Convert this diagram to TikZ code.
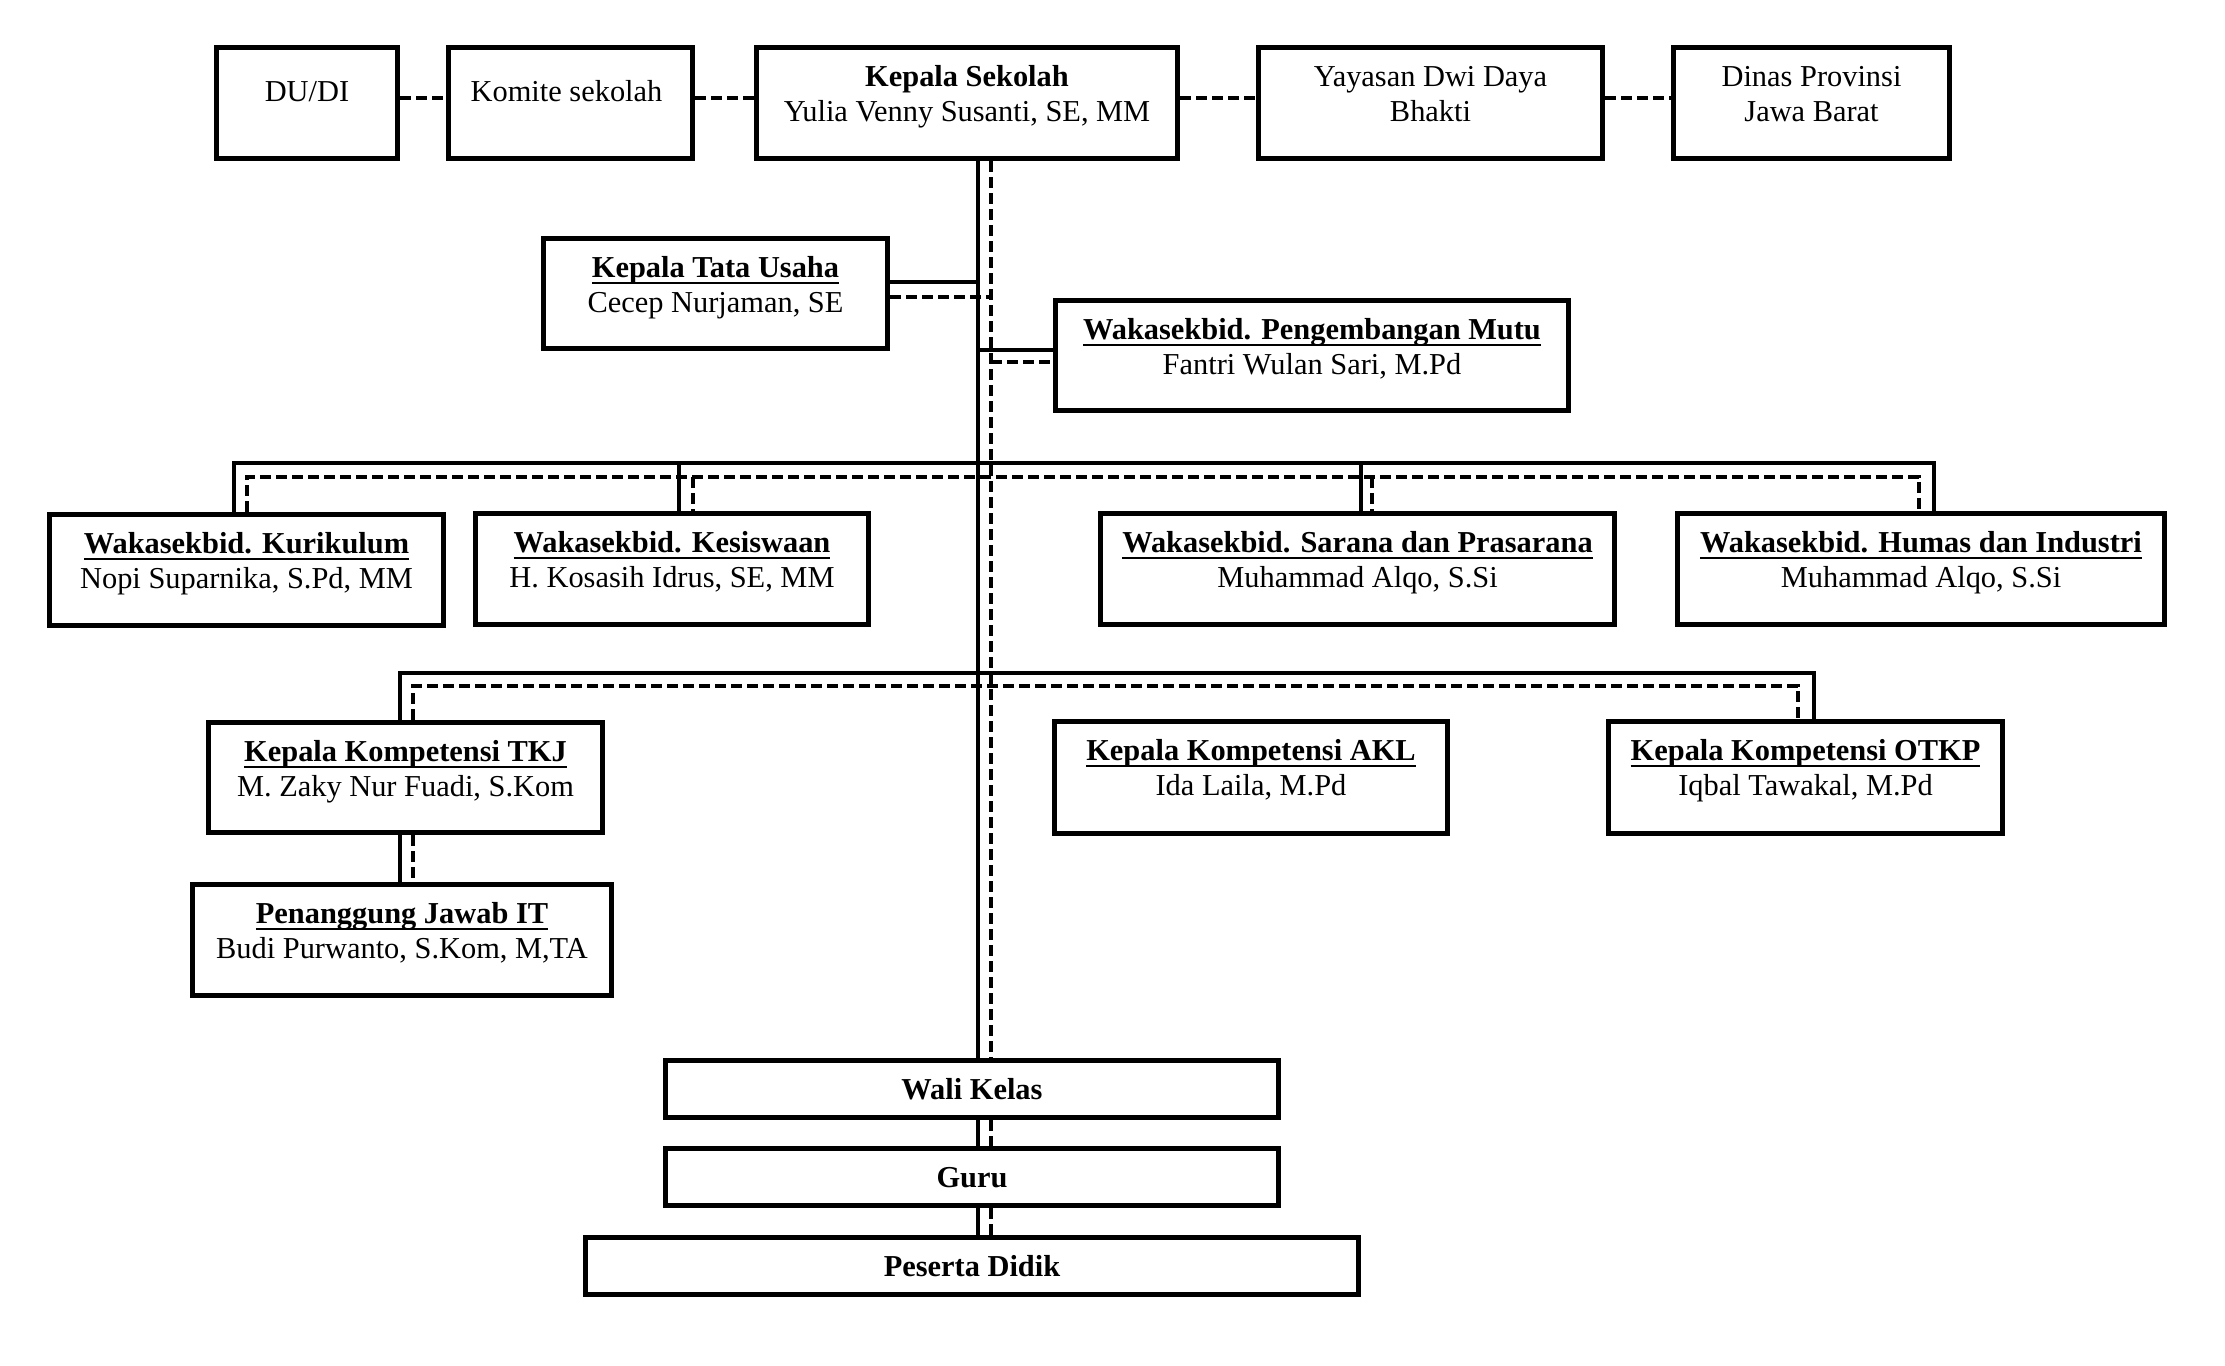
\documentclass[tikz,border=0pt]{standalone}
\usepackage{fontspec}
\setmainfont{Liberation Serif}
\newsavebox\ulbox
\newcommand\ulb[1]{\sbox\ulbox{\bfseries #1}\rlap{\usebox\ulbox}\rule[-3.1pt]{\wd\ulbox}{1.1pt}}
\newcommand\mkbox[5]{\node[orgbox, minimum width={(#4-#2-4.5)*0.5pt}, minimum height={(#5-#3-4.5)*0.5pt}] (#1) at ({(#2+#4)/2},{(#3+#5)/2}) {};}
\tikzset{
  orgbox/.style={draw, rectangle, line width=2.35pt, inner sep=0pt},
  txt/.style={inner sep=0pt, font=\fontsize{15.2}{17.5}\selectfont, anchor=base},
  solidc/.style={line width=2pt},
  dashc/.style={line width=2pt, dash pattern=on 5.5pt off 2.5pt}
}
\begin{document}
\begin{tikzpicture}[x=0.5pt,y=-0.5pt]
\fill[white] (0,0) rectangle (2225,1365);
\useasboundingbox (0,0) rectangle (2225,1365);
% boxes
\mkbox{dudi}{214}{45}{400}{161}
\mkbox{komite}{446}{45}{695}{161}
\mkbox{ks}{754}{45}{1180}{161}
\mkbox{yay}{1256}{45}{1605}{161}
\mkbox{dinas}{1671}{45}{1952}{161}
\mkbox{ktu}{541}{236}{890}{351}
\mkbox{mutu}{1053}{298}{1571}{413}
\mkbox{kur}{47}{512}{446}{628}
\mkbox{kes}{473}{511}{871}{627}
\mkbox{sar}{1098}{511}{1617}{627}
\mkbox{hum}{1675}{511}{2167}{627}
\mkbox{tkj}{206}{720}{605}{835}
\mkbox{akl}{1052}{719}{1450}{836}
\mkbox{otkp}{1606}{719}{2005}{836}
\mkbox{pjit}{190}{882}{614}{998}
\mkbox{wali}{663}{1058}{1281}{1120}
\mkbox{guru}{663}{1146}{1281}{1208}
\mkbox{pd}{583}{1235}{1361}{1297}
% texts
\node[txt] (dudi-a) at ([yshift=-28.5pt]dudi.north) {DU/DI};
\node[txt] (komite-a) at ([xshift=-2pt,yshift=-28.5pt]komite.north) {Komite sekolah};
\node[txt] (ks-a) at ([yshift=-21pt]ks.north) {\bfseries Kepala Sekolah};
\node[txt] (ks-b) at ([yshift=-38.5pt]ks.north) {Yulia Venny Susanti, SE, MM};
\node[txt] (yay-a) at ([yshift=-21pt]yay.north) {Yayasan Dwi Daya};
\node[txt] (yay-b) at ([yshift=-38.5pt]yay.north) {Bhakti};
\node[txt] (dinas-a) at ([yshift=-21pt]dinas.north) {Dinas Provinsi};
\node[txt] (dinas-b) at ([yshift=-38.5pt]dinas.north) {Jawa Barat};
\node[txt] (ktu-a) at ([yshift=-21pt]ktu.north) {\ulb{Kepala Tata Usaha}};
\node[txt] (ktu-b) at ([yshift=-38.5pt]ktu.north) {Cecep Nurjaman, SE};
\node[txt] (mutu-a) at ([yshift=-21pt]mutu.north) {\ulb{Wakasekbid. Pengembangan Mutu}};
\node[txt] (mutu-b) at ([yshift=-38.5pt]mutu.north) {Fantri Wulan Sari, M.Pd};
\node[txt] (kur-a) at ([yshift=-21pt]kur.north) {\ulb{Wakasekbid. Kurikulum}};
\node[txt] (kur-b) at ([yshift=-38.5pt]kur.north) {Nopi Suparnika, S.Pd, MM};
\node[txt] (kes-a) at ([yshift=-21pt]kes.north) {\ulb{Wakasekbid. Kesiswaan}};
\node[txt] (kes-b) at ([yshift=-38.5pt]kes.north) {H. Kosasih Idrus, SE, MM};
\node[txt] (sar-a) at ([yshift=-21pt]sar.north) {\ulb{Wakasekbid. Sarana dan Prasarana}};
\node[txt] (sar-b) at ([yshift=-38.5pt]sar.north) {Muhammad Alqo, S.Si};
\node[txt] (hum-a) at ([yshift=-21pt]hum.north) {\ulb{Wakasekbid. Humas dan Industri}};
\node[txt] (hum-b) at ([yshift=-38.5pt]hum.north) {Muhammad Alqo, S.Si};
\node[txt] (tkj-a) at ([yshift=-21pt]tkj.north) {\ulb{Kepala Kompetensi TKJ}};
\node[txt] (tkj-b) at ([yshift=-38.5pt]tkj.north) {M. Zaky Nur Fuadi, S.Kom};
\node[txt] (akl-a) at ([yshift=-21pt]akl.north) {\ulb{Kepala Kompetensi AKL}};
\node[txt] (akl-b) at ([yshift=-38.5pt]akl.north) {Ida Laila, M.Pd};
\node[txt] (otkp-a) at ([yshift=-21pt]otkp.north) {\ulb{Kepala Kompetensi OTKP}};
\node[txt] (otkp-b) at ([yshift=-38.5pt]otkp.north) {Iqbal Tawakal, M.Pd};
\node[txt] (pjit-a) at ([yshift=-21pt]pjit.north) {\ulb{Penanggung Jawab IT}};
\node[txt] (pjit-b) at ([yshift=-38.5pt]pjit.north) {Budi Purwanto, S.Kom, M,TA};
\node[txt] (wali-a) at ([yshift=-21pt]wali.north) {\bfseries Wali Kelas};
\node[txt] (guru-a) at ([yshift=-21pt]guru.north) {\bfseries Guru};
\node[txt] (pd-a) at ([yshift=-21pt]pd.north) {\bfseries Peserta Didik};
% helper coordinates
\coordinate (sx) at (978,0);
\coordinate (dx) at (991,0);
\coordinate (b3s) at (0,463);
\coordinate (b3d) at (0,477);
\coordinate (b4s) at (0,673);
\coordinate (b4d) at (0,686);
\coordinate (xk1) at (234,0);  \coordinate (yk1) at (247,0);
\coordinate (xk2) at (679,0);  \coordinate (yk2) at (693,0);
\coordinate (xk3) at (1361,0); \coordinate (yk3) at (1372,0);
\coordinate (xk4) at (1934,0); \coordinate (yk4) at (1919,0);
\coordinate (xt1) at (400,0);  \coordinate (yt1) at (413,0);
\coordinate (xt2) at (1814,0); \coordinate (yt2) at (1798,0);
% top row dashed
\draw[dashc] ([yshift=2.5pt]dudi.east) -- ([yshift=2.5pt]komite.west);
\draw[dashc] ([yshift=2.5pt]komite.east) -- ([yshift=2.5pt]ks.west);
\draw[dashc] ([yshift=2.5pt]ks.east) -- ([yshift=2.5pt]yay.west);
\draw[dashc] ([yshift=2.5pt]yay.east) -- ([yshift=2.5pt]dinas.west);
% main vertical
\draw[solidc] (ks.south -| sx) -- (wali.north -| sx);
\draw[dashc] (ks.south -| dx) -- (wali.north -| dx);
\draw[solidc] (wali.south -| sx) -- (guru.north -| sx);
\draw[dashc] (wali.south -| dx) -- (guru.north -| dx);
\draw[solidc] (guru.south -| sx) -- (pd.north -| sx);
\draw[dashc] (guru.south -| dx) -- (pd.north -| dx);
% KTU and Mutu
\coordinate (ktuS) at ([yshift=5.75pt]ktu.east);
\coordinate (ktuD) at ([yshift=-1.75pt]ktu.east);
\draw[solidc] (ktuS) -- (ktuS -| sx);
\draw[dashc] (ktuD) -- (ktuD -| dx);
\coordinate (mutuS) at ([yshift=2.75pt]mutu.west);
\coordinate (mutuD) at ([yshift=-3.25pt]mutu.west);
\draw[solidc] (mutuS -| sx) -- (mutuS);
\draw[dashc] (mutuD -| dx) -- (mutuD);
% row 3 bus
\draw[solidc] (kur.north -| xk1) -- (xk1 |- b3s) -- (xk4 |- b3s) -- (hum.north -| xk4);
\draw[solidc] (xk2 |- b3s) -- (kes.north -| xk2);
\draw[solidc] (xk3 |- b3s) -- (sar.north -| xk3);
\draw[dashc] (kur.north -| yk1) -- (yk1 |- b3d) -- (yk4 |- b3d) -- (hum.north -| yk4);
\draw[dashc] (yk2 |- b3d) -- (kes.north -| yk2);
\draw[dashc] (yk3 |- b3d) -- (sar.north -| yk3);
% row 4 bus
\draw[solidc] (tkj.north -| xt1) -- (xt1 |- b4s) -- (xt2 |- b4s) -- (otkp.north -| xt2);
\draw[dashc] (tkj.north -| yt1) -- (yt1 |- b4d) -- (yt2 |- b4d) -- (otkp.north -| yt2);
% TKJ to PJIT
\draw[solidc] (tkj.south -| xt1) -- (pjit.north -| xt1);
\draw[dashc] (tkj.south -| yt1) -- (pjit.north -| yt1);
\end{tikzpicture}
\end{document}
